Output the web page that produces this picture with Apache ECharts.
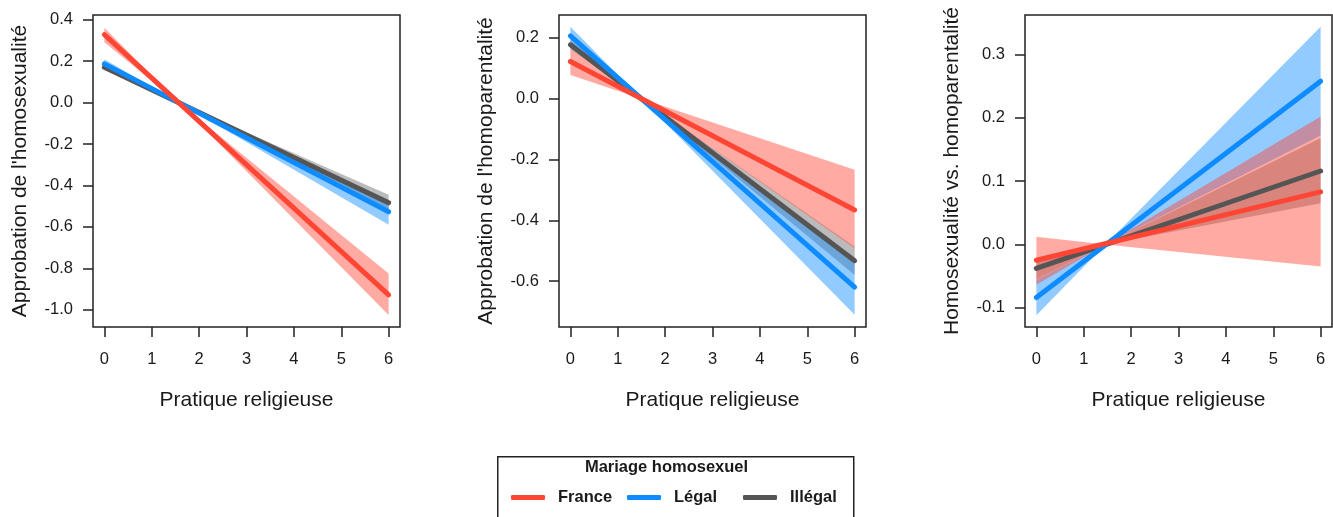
<!DOCTYPE html>
<html>
<head>
<meta charset="utf-8">
<script src="https://cdn.jsdelivr.net/npm/echarts@6/dist/echarts.min.js"></script>
<style>
  html, body { margin: 0; padding: 0; background: #fff; }
  #chart { width: 1333px; height: 517px; }
</style>
</head>
<body>
<div id="chart"></div>
<script>
  // x values of the fitted lines (pratique religieuse 0..6)
  const lineX = [0, 6];
  const xTicks = [0, 1, 2, 3, 4, 5, 6];

  // panel 1 : approbation de l'homosexualité
  const p1Title = "Approbation de l'homosexualité";
  const p1Ticks = [-1.0, -0.8, -0.6, -0.4, -0.2, 0.0, 0.2, 0.4];
  const p1Range = [-1.083, 0.423];
  const p1France = [0.328, -0.928];
  const p1Legal = [0.187, -0.527];
  const p1Illegal = [0.171, -0.483];
  // confidence bands: x at 0, crossing point, 6
  const p1BandX = [0, 1.57, 6];
  const p1FranceLo = [0.292, 0, -1.025];
  const p1FranceHi = [0.362, 0, -0.825];
  const p1LegalLo = [0.167, 0, -0.59];
  const p1LegalHi = [0.209, 0, -0.47];
  const p1IllegalLo = [0.158, 0, -0.525];
  const p1IllegalHi = [0.186, 0, -0.445];

  // panel 2 : approbation de l'homoparentalité
  const p2Title = "Approbation de l'homoparentalité";
  const p2Ticks = [-0.6, -0.4, -0.2, 0.0, 0.2];
  const p2Range = [-0.751, 0.275];
  const p2France = [0.122, -0.366];
  const p2Legal = [0.206, -0.62];
  const p2Illegal = [0.177, -0.533];
  const p2BandX = [0, 1.5, 6];
  const p2FranceLo = [0.078, 0, -0.492];
  const p2FranceHi = [0.164, 0, -0.234];
  const p2LegalLo = [0.176, 0, -0.711];
  const p2LegalHi = [0.236, 0, -0.53];
  const p2IllegalLo = [0.162, 0, -0.58];
  const p2IllegalHi = [0.193, 0, -0.487];

  // panel 3 : homosexualité vs. homoparentalité
  const p3Title = "Homosexualité vs. homoparentalité";
  const p3Ticks = [-0.1, 0.0, 0.1, 0.2, 0.3];
  const p3Range = [-0.1306, 0.3626];
  const p3France = [-0.025, 0.083];
  const p3Legal = [-0.084, 0.258];
  const p3Illegal = [-0.038, 0.116];
  const p3BandX = [0, 1.46, 6];
  const p3FranceLo = [-0.064, 0, -0.035];
  const p3FranceHi = [0.012, 0, 0.202];
  const p3LegalLo = [-0.112, 0, 0.172];
  const p3LegalHi = [-0.056, 0, 0.344];
  const p3IllegalLo = [-0.055, 0, 0.065];
  const p3IllegalHi = [-0.021, 0, 0.168];

  const groups = ['France', 'Légal', 'Illégal'];
  const colors = { 'France': '#FF4533', 'Légal': '#0D8BFF', 'Illégal': '#555555' };
  const bandColors = {
    'France': 'rgba(255,69,51,0.45)',
    'Légal': 'rgba(13,139,255,0.45)',
    'Illégal': 'rgba(85,85,85,0.4)'
  };

  const font = 'Liberation Sans, Arial, Helvetica, sans-serif';
  const ink = '#1a1a1a';
  const gridLefts = [93, 559, 1025];

  const panels = [
    { title: p1Title, ticks: p1Ticks, range: p1Range, bandX: p1BandX,
      lines: { 'France': p1France, 'Légal': p1Legal, 'Illégal': p1Illegal },
      lo: { 'France': p1FranceLo, 'Légal': p1LegalLo, 'Illégal': p1IllegalLo },
      hi: { 'France': p1FranceHi, 'Légal': p1LegalHi, 'Illégal': p1IllegalHi } },
    { title: p2Title, ticks: p2Ticks, range: p2Range, bandX: p2BandX,
      lines: { 'France': p2France, 'Légal': p2Legal, 'Illégal': p2Illegal },
      lo: { 'France': p2FranceLo, 'Légal': p2LegalLo, 'Illégal': p2IllegalLo },
      hi: { 'France': p2FranceHi, 'Légal': p2LegalHi, 'Illégal': p2IllegalHi } },
    { title: p3Title, ticks: p3Ticks, range: p3Range, bandX: p3BandX,
      lines: { 'France': p3France, 'Légal': p3Legal, 'Illégal': p3Illegal },
      lo: { 'France': p3FranceLo, 'Légal': p3LegalLo, 'Illégal': p3IllegalLo },
      hi: { 'France': p3FranceHi, 'Légal': p3LegalHi, 'Illégal': p3IllegalHi } }
  ];

  function bandSeries(name, gi, bx, lo, hi) {
    return {
      type: 'custom',
      name: name + ' IC',
      xAxisIndex: gi,
      yAxisIndex: gi,
      silent: true,
      data: bx.map((x, i) => [x, lo[i], hi[i]]),
      encode: { x: 0, y: [1, 2] },
      renderItem: function (params, api) {
        const i = params.dataIndexInside;
        if (i >= params.dataInsideLength - 1) return null;
        const x0 = api.value(0, i), x1 = api.value(0, i + 1);
        const pts = [
          api.coord([x0, api.value(1, i)]),
          api.coord([x1, api.value(1, i + 1)]),
          api.coord([x1, api.value(2, i + 1)]),
          api.coord([x0, api.value(2, i)])
        ];
        return { type: 'polygon', shape: { points: pts }, style: { fill: bandColors[name] } };
      }
    };
  }

  function lineSeries(name, gi, vals) {
    return {
      type: 'line',
      name: name,
      xAxisIndex: gi,
      yAxisIndex: gi,
      silent: true,
      symbol: 'none',
      data: lineX.map((x, i) => [x, vals[i]]),
      lineStyle: { color: colors[name], width: 5, cap: 'round' },
      itemStyle: { color: colors[name] }
    };
  }

  const grids = [], xAxes = [], yAxes = [], series = [];
  panels.forEach((p, gi) => {
    grids.push({
      left: gridLefts[gi], top: 15, width: 307, height: 312,
      show: true, borderColor: '#222', borderWidth: 1.5,
      containLabel: false, outerBoundsMode: 'none'
    });
    xAxes.push({
      gridIndex: gi, type: 'value', min: -0.24, max: 6.24,
      name: 'Pratique religieuse', nameLocation: 'middle', nameGap: 63,
      nameTextStyle: { fontSize: 21, color: ink, fontFamily: font },
      axisLine: { show: false, onZero: false },
      splitLine: { show: false },
      axisTick: { show: true, customValues: xTicks, length: 10, lineStyle: { color: '#222', width: 1.5 } },
      axisLabel: { customValues: xTicks, margin: 24, fontSize: 16.5, color: ink, fontFamily: font }
    });
    yAxes.push({
      gridIndex: gi, type: 'value', min: p.range[0], max: p.range[1],
      name: p.title, nameLocation: 'middle', nameGap: 62,
      nameTextStyle: { fontSize: 21, color: ink, fontFamily: font },
      axisLine: { show: false, onZero: false },
      splitLine: { show: false },
      axisTick: { show: true, customValues: p.ticks, length: 10, lineStyle: { color: '#222', width: 1.5 } },
      axisLabel: {
        customValues: p.ticks, margin: 20, fontSize: 16.5, color: ink, fontFamily: font,
        formatter: v => v.toFixed(1)
      }
    });
    // draw order: Illégal, Légal, France (band then line)
    ['Illégal', 'Légal', 'France'].forEach(g => {
      series.push(bandSeries(g, gi, p.bandX, p.lo[g], p.hi[g]));
      series.push(lineSeries(g, gi, p.lines[g]));
    });
  });

  const legendLefts = [511, 627, 743];
  const legends = groups.map((g, i) => ({
    data: [g],
    left: legendLefts[i], top: 489,
    padding: 0,
    icon: 'roundRect',
    itemWidth: 34, itemHeight: 5, itemGap: 0,
    selectedMode: false,
    textStyle: { fontSize: 16.5, fontWeight: 'bold', color: ink, fontFamily: font, padding: [0, 0, 0, 8] }
  }));

  const chart = echarts.init(document.getElementById('chart'));
  chart.setOption({
    animation: false,
    backgroundColor: '#fff',
    grid: grids,
    xAxis: xAxes,
    yAxis: yAxes,
    series: series,
    legend: legends,
    graphic: [
      {
        type: 'rect', left: 497, top: 456, z: -1,
        shape: { width: 356, height: 80 },
        style: { fill: '#fff', stroke: '#222', lineWidth: 1.5 }
      },
      {
        type: 'text', left: 'center', top: 459,
        style: {
          text: 'Mariage homosexuel', fill: ink,
          font: 'bold 16.5px ' + font
        }
      }
    ]
  });
</script>
</body>
</html>
